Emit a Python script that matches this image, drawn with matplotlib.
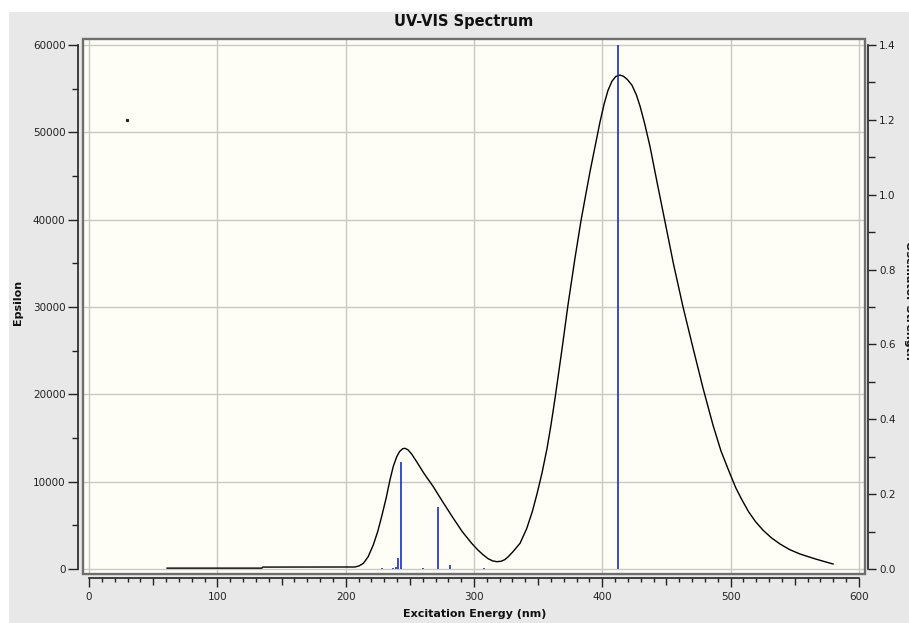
import matplotlib.pyplot as plt
from matplotlib.patches import Rectangle
from matplotlib.ticker import MultipleLocator, FormatStrFormatter

# broadened spectrum (nm, molar absorptivity)
wavelength = [60.8, 134.8, 135.3, 207.3, 210.5, 213.8, 217.5, 221.5, 225.0, 228.0,
              231.5, 234.5, 237.0, 239.8, 242.0, 244.5, 246.2, 248.5, 251.5, 255.3,
              261.0, 268.3, 276.0, 283.9, 291.0, 298.2, 303.0, 307.3, 311.0, 314.5,
              317.7, 321.0, 324.0, 326.7, 330.5, 335.9, 341.0, 345.5, 349.1, 353.0,
              356.9, 360.0, 363.1, 368.6, 373.3, 378.7, 383.4, 387.0, 390.4, 394.5,
              398.2, 401.5, 404.4, 407.5, 410.5, 413.7, 416.5, 419.5, 423.1, 426.5,
              429.4, 433.0, 437.2, 442.5, 448.8, 455.5, 462.9, 470.7, 478.5, 486.2,
              492.5, 499.5, 504.0, 508.5, 514.0, 519.5, 525.2, 531.5, 538.5, 546.0,
              554.0, 566.0, 579.8]
epsilon = [100, 100, 220, 230, 360, 650, 1400, 2750, 4300, 5990,
           8100, 10190, 11700, 12860, 13450, 13780, 13820, 13650, 13150, 12290,
           10950, 9420, 7600, 5800, 4250, 2940, 2180, 1600, 1180, 930,
           840, 880, 1070, 1410, 2000, 2950, 4600, 6600, 8600, 11000,
           13800, 16500, 19500, 25200, 30300, 35600, 39900, 42800, 45500, 48500,
           51200, 53300, 54800, 55850, 56400, 56560, 56420, 56050, 55400, 54300,
           53000, 51000, 48350, 44400, 39800, 34900, 30000, 25300, 20700, 16500,
           13500, 10900, 9300, 8000, 6550, 5400, 4450, 3600, 2860, 2220,
           1720, 1150, 570]

# excitations (nm, oscillator strength)
line_nm = [228.0, 237.0, 239.5, 240.8, 242.8, 260.5, 271.7, 281.3, 307.8, 412.5]
osc_strength = [0.003, 0.003, 0.006, 0.029, 0.287, 0.003, 0.166, 0.011, 0.003, 1.40]

stray_nm = [29.4]
stray_eps = [51400]

W, H = 909, 623
fig = plt.figure(figsize=(W / 100, H / 100), dpi=100, facecolor='white')
fig.patches.append(Rectangle((9 / W, 0), 1, (H - 12) / H, transform=fig.transFigure,
                             facecolor='#e8e8e8', edgecolor='none', zorder=-10))

ax = fig.add_axes([83 / W, 49 / H, 782 / W, 535 / H])
ax.set_facecolor('#fefef6')
ax.set_xlim(-4.7, 604.7)
ax.set_ylim(-573, 60690)
ax.set_axisbelow(True)

ax.plot(wavelength, epsilon, color='black', lw=1.0, zorder=3)
ax.plot(stray_nm, stray_eps, 's', ms=1.3, color='#222222', zorder=3)

# frame around the plotting area
ax.add_patch(Rectangle((0, 0), 1, 1, transform=ax.transAxes, fill=False,
                       edgecolor='#6e6e6e', lw=1.7, zorder=5, clip_on=False))

ax.xaxis.set_major_locator(MultipleLocator(100))
ax.xaxis.set_minor_locator(MultipleLocator(10))
ax.yaxis.set_major_locator(MultipleLocator(10000))
ax.yaxis.set_minor_locator(MultipleLocator(5000))
ax.grid(True, which='major', color='#c8c8c8', lw=1.0)

for side in ['top', 'right']:
    ax.spines[side].set_visible(False)
ax.spines['left'].set_position(('outward', 3.6))
ax.spines['left'].set_bounds(0, 60000)
ax.spines['bottom'].set_position(('outward', 2.9))
ax.spines['bottom'].set_bounds(0, 600)
for side in ['left', 'bottom']:
    ax.spines[side].set_color('#222222')
    ax.spines[side].set_linewidth(1.2)

ax.tick_params(axis='x', which='major', length=6.8, width=1, pad=3.6,
               labelsize=7.5, colors='#222222')
ax.tick_params(axis='x', which='minor', length=3.2, width=1, colors='#222222')
ax.tick_params(axis='y', which='major', length=7, width=1, pad=2,
               labelsize=7.5, colors='#222222')
ax.tick_params(axis='y', which='minor', length=4.5, width=1, colors='#222222')

# half-way ticks between the hundreds are a bit longer
for t, loc in zip(ax.xaxis.get_minor_ticks(), ax.xaxis.get_minorticklocs()):
    if abs(loc / 50 - round(loc / 50)) < 1e-6:
        t.tick1line.set_markersize(5.2)

ax2 = ax.twinx()
ax2.set_ylim(-0.01337, 1.4161)
ax2.vlines(line_nm, 0, osc_strength, color='#1a2ebf', lw=1.2, zorder=4)
for side in ['left', 'top', 'bottom']:
    ax2.spines[side].set_visible(False)
ax2.spines['right'].set_position(('outward', 2.2))
ax2.spines['right'].set_bounds(0, 1.4)
ax2.spines['right'].set_color('#222222')
ax2.spines['right'].set_linewidth(1.2)
ax2.yaxis.set_major_locator(MultipleLocator(0.2))
ax2.yaxis.set_minor_locator(MultipleLocator(0.1))
ax2.yaxis.set_major_formatter(FormatStrFormatter('%.1f'))
ax2.tick_params(axis='y', which='major', length=6, width=1, pad=2,
                labelsize=7.5, colors='#222222')
ax2.tick_params(axis='y', which='minor', length=5, width=1, colors='#222222')

fig.text(464 / W, 1 - 21.5 / H, 'UV-VIS Spectrum', ha='center', va='center',
         fontsize=10.5, fontweight='bold', color='#111111')
fig.text(475 / W, 1 - 614 / H, 'Excitation Energy (nm)', ha='center', va='center',
         fontsize=8, fontweight='bold', color='#111111')
fig.text(18 / W, 1 - 302 / H, 'Epsilon', ha='center', va='center', rotation=90,
         fontsize=8, fontweight='bold', color='#111111')
# right axis title runs off the right edge of the panel
fig.text(909 / W, 1 - 300 / H, 'Oscillator Strength', ha='center', va='center',
         rotation=270, fontsize=8, fontweight='bold', color='#111111')

fig.savefig('out.png', dpi=100)
